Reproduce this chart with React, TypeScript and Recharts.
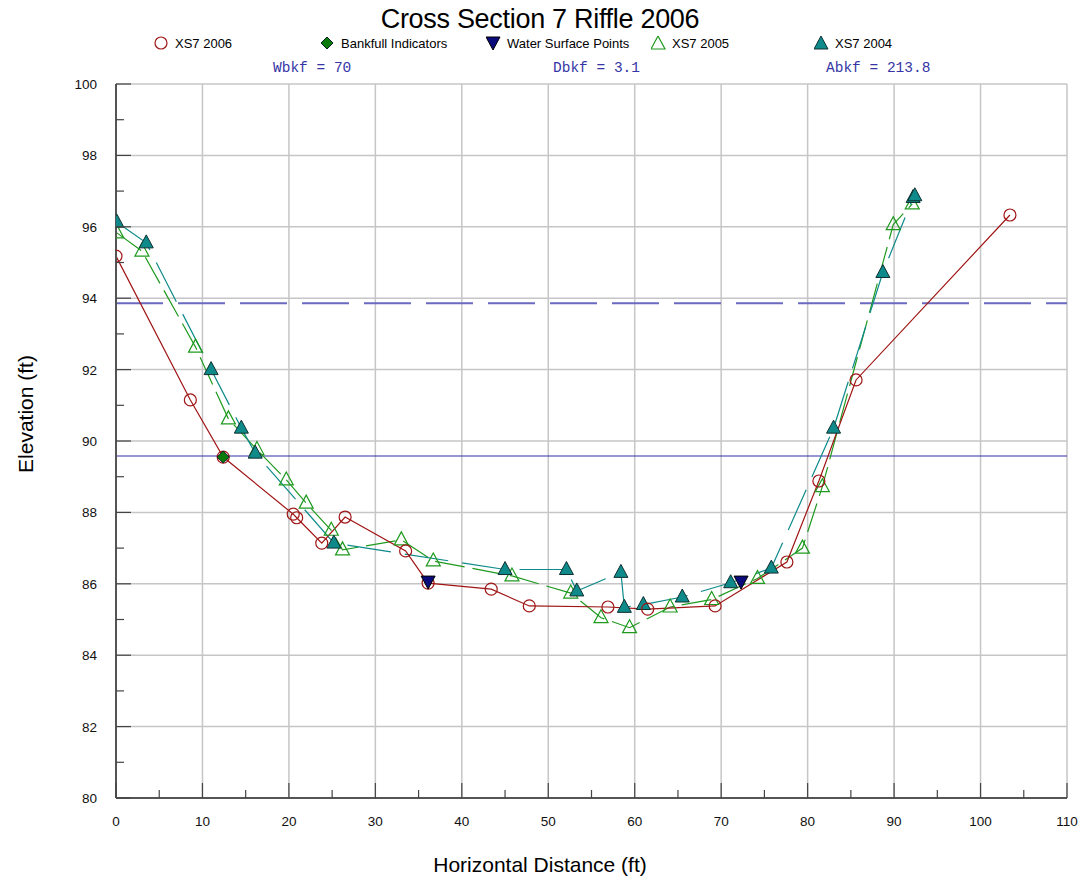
import {ComposedChart, Line, XAxis, YAxis, CartesianGrid, ReferenceLine} from "recharts";

// survey points [station ft, elevation ft]
const xs7_2006: [number, number][] = [
    [0, 95.18], [8.6, 91.15], [12.4, 89.55], [20.5, 87.95], [20.9, 87.85], [23.8, 87.14],
    [26.5, 87.87], [33.5, 86.92], [36.1, 86.02], [43.4, 85.85], [47.8, 85.38], [56.9, 85.35],
    [61.5, 85.29], [69.3, 85.38], [77.6, 86.61], [81.3, 88.88], [85.6, 91.71], [103.4, 96.33],
]
const xs7_2005: [number, number][] = [
    [0.1, 95.83], [3.0, 95.32], [9.2, 92.63], [13.0, 90.62], [16.3, 89.76], [19.7, 88.91],
    [22.0, 88.26], [24.9, 87.5], [26.2, 86.95], [33.0, 87.23], [36.7, 86.64], [45.8, 86.22],
    [52.6, 85.74], [56.1, 85.05], [59.4, 84.77], [64.1, 85.35], [68.9, 85.56], [74.2, 86.15],
    [79.4, 87.0], [81.7, 88.72], [89.9, 96.06], [92.1, 96.64],
]
const xs7_2004: [number, number][] = [
    [0.1, 96.13], [3.5, 95.55], [11.0, 92.0], [14.5, 90.36], [16.1, 89.66], [25.2, 87.14],
    [45.0, 86.4], [52.1, 86.4], [53.3, 85.8], [58.4, 86.32], [58.8, 85.34], [61.0, 85.42],
    [65.5, 85.63], [71.1, 86.03], [75.8, 86.44], [83.0, 90.36], [88.7, 94.72], [92.2, 96.82],
    [92.4, 96.87],
]
const bankfullIndicators: [number, number][] = [[12.4, 89.55]]
const waterSurfacePoints: [number, number][] = [[36.1, 86.02], [72.3, 86.02]]

const bankfullElev = 89.58
const floodproneElev = 93.86

const xTicks = [0, 5, 10, 15, 20, 25, 30, 35, 40, 45, 50, 55, 60, 65, 70, 75, 80, 85, 90, 95, 100, 105, 110]
const yTicks = [80, 81, 82, 83, 84, 85, 86, 87, 88, 89, 90, 91, 92, 93, 94, 95, 96, 97, 98, 99, 100]
const xGrid = [10, 20, 30, 40, 50, 60, 70, 80, 90, 100, 110]
const yGrid = [82, 84, 86, 88, 90, 92, 94, 96, 98, 100]

const stats = [
    {text: "Wbkf = 70", left: 273},
    {text: "Dbkf = 3.1", left: 553},
    {text: "Abkf = 213.8", left: 826},
]

const toPts = (arr: [number, number][]) => arr.map(([x, y]) => ({x, y}))

const RED = "#a01515"
const GREEN = "#1f9a1f"
const TEAL = "#0e8a8a"
const NAVY = "#0a0a7a"
const FONT = "'Liberation Sans', Arial, sans-serif"

function Circle(p: any) {
    return <circle key={p.key} cx={p.cx} cy={p.cy} r={6} fill="none" stroke={RED} strokeWidth={1.2}/>
}

function OpenTri(p: any) {
    const {cx, cy} = p
    return <path key={p.key} d={`M${cx},${cy - 8} L${cx + 7},${cy + 5} L${cx - 7},${cy + 5} Z`} fill="none" stroke={GREEN} strokeWidth={1.2}/>
}

function FillTri(p: any) {
    const {cx, cy} = p
    return <path key={p.key} d={`M${cx},${cy - 8} L${cx + 7},${cy + 5} L${cx - 7},${cy + 5} Z`} fill={TEAL} stroke="#103030" strokeWidth={1}/>
}

function DownTri(p: any) {
    const {cx, cy} = p
    return <path key={p.key} d={`M${cx - 7},${cy - 7} L${cx + 7},${cy - 7} L${cx},${cy + 6} Z`} fill={NAVY} stroke="#000" strokeWidth={1}/>
}

function Diamond(p: any) {
    const {cx, cy} = p
    return <path key={p.key} d={`M${cx},${cy - 6} L${cx + 6},${cy} L${cx},${cy + 6} L${cx - 6},${cy} Z`} fill="#0a7a0a" stroke="#022" strokeWidth={1}/>
}

function XTick(p: any) {
    const v = p.payload.value
    const major = v % 10 === 0
    const axisY = p.y - 24
    return (
        <g>
            <line x1={p.x} x2={p.x} y1={axisY} y2={axisY - (major ? 15 : 8)} stroke="#444" strokeWidth={1.2}/>
            {major && <text x={p.x} y={p.y + 4} textAnchor="middle" fontSize={13.5} fontFamily={FONT} fill="#111">{v}</text>}
        </g>
    )
}

function YTick(p: any) {
    const v = p.payload.value
    const major = v % 2 === 0
    const axisX = p.x + 19
    return (
        <g>
            <line x1={axisX} x2={axisX + (major ? 15 : 8)} y1={p.y} y2={p.y} stroke="#444" strokeWidth={1.2}/>
            {major && <text x={p.x} y={p.y + 5} textAnchor="end" fontSize={13.5} fontFamily={FONT} fill="#111">{v}</text>}
        </g>
    )
}

const legendItems = [
    {label: "XS7 2006", left: 154, icon: <circle cx={7} cy={7} r={6} fill="none" stroke={RED} strokeWidth={1.2}/>},
    {label: "Bankfull Indicators", left: 320, icon: <path d="M7,1 L13,7 L7,13 L1,7 Z" fill="#0a7a0a" stroke="#022"/>},
    {label: "Water Surface Points", left: 486, icon: <path d="M0,1 L14,1 L7,14 Z" fill={NAVY} stroke="#000"/>},
    {label: "XS7 2005", left: 651, icon: <path d="M7,0 L14,13 L0,13 Z" fill="none" stroke={GREEN} strokeWidth={1.2}/>},
    {label: "XS7 2004", left: 814, icon: <path d="M7,0 L14,13 L0,13 Z" fill={TEAL} stroke="#103030"/>},
]

export default function App() {
    return (
        <div style={{position: "relative", width: 1089, height: 883, margin: "-8px 0 0 -8px", fontFamily: FONT, background: "#fff"}}>
            <div style={{position: "absolute", top: 4, left: 0, width: 1080, textAlign: "center", fontSize: 27, lineHeight: "30px", color: "#000", letterSpacing: -0.3}}>
                Cross Section 7 Riffle 2006
            </div>
            {legendItems.map((it) => (
                <div key={it.label} style={{position: "absolute", top: 36, left: it.left, display: "flex", alignItems: "center", fontSize: 13}}>
                    <svg width={15} height={15} style={{marginRight: 6}}>{it.icon}</svg>
                    <span>{it.label}</span>
                </div>
            ))}
            {stats.map((s) => (
                <div key={s.text} style={{position: "absolute", top: 60, left: s.left, fontFamily: "'Liberation Mono', 'Courier New', monospace", fontSize: 14.5, color: "#3535a5", whiteSpace: "pre"}}>
                    {s.text}
                </div>
            ))}
            <div style={{position: "absolute", left: 26, top: 414, transform: "translate(-50%, -50%) rotate(-90deg)", fontSize: 21, whiteSpace: "nowrap"}}>
                Elevation (ft)
            </div>
            <div style={{position: "absolute", left: 540, top: 865, transform: "translate(-50%, -50%)", fontSize: 21, whiteSpace: "nowrap"}}>
                Horizontal Distance (ft)
            </div>
            <ComposedChart width={1089} height={883} margin={{top: 84, right: 22, bottom: 45, left: 56}} style={{position: "absolute", top: 0, left: 0}}>
                <CartesianGrid verticalValues={xGrid} horizontalValues={yGrid} stroke="#c6c6c6" strokeWidth={1.5}/>
                <XAxis type="number" dataKey="x" domain={[0, 110]} ticks={xTicks} interval={0} allowDataOverflow
                       height={40} tickSize={0} tickMargin={24} tick={<XTick/>} tickLine={false}
                       axisLine={{stroke: "#555", strokeWidth: 2}}/>
                <YAxis type="number" dataKey="y" domain={[80, 100]} ticks={yTicks} interval={0} allowDataOverflow
                       width={60} tickSize={0} tickMargin={19} tick={<YTick/>} tickLine={false}
                       axisLine={{stroke: "#555", strokeWidth: 2}}/>
                <ReferenceLine y={floodproneElev} stroke="#6a6ac0" strokeWidth={2} strokeDasharray="47 15"/>
                <ReferenceLine y={bankfullElev} stroke="#2e2ea8" strokeWidth={1.2}/>
                <Line data={toPts(xs7_2005)} dataKey="y" type="linear" stroke={GREEN} strokeWidth={1.2} strokeDasharray="30 8"
                      dot={(p: any) => <OpenTri {...p} key={p.key}/>} isAnimationActive={false} legendType="none"/>
                <Line data={toPts(xs7_2004)} dataKey="y" type="linear" stroke={TEAL} strokeWidth={1.2} strokeDasharray="44 14"
                      dot={(p: any) => <FillTri {...p} key={p.key}/>} isAnimationActive={false} legendType="none"/>
                <Line data={toPts(xs7_2006)} dataKey="y" type="linear" stroke={RED} strokeWidth={1.2}
                      dot={(p: any) => <Circle {...p} key={p.key}/>} isAnimationActive={false} legendType="none"/>
                <Line data={toPts(bankfullIndicators)} dataKey="y" stroke="none"
                      dot={(p: any) => <Diamond {...p} key={p.key}/>} isAnimationActive={false} legendType="none"/>
                <Line data={toPts(waterSurfacePoints)} dataKey="y" stroke="none"
                      dot={(p: any) => <DownTri {...p} key={p.key}/>} isAnimationActive={false} legendType="none"/>
            </ComposedChart>
        </div>
    )
}
